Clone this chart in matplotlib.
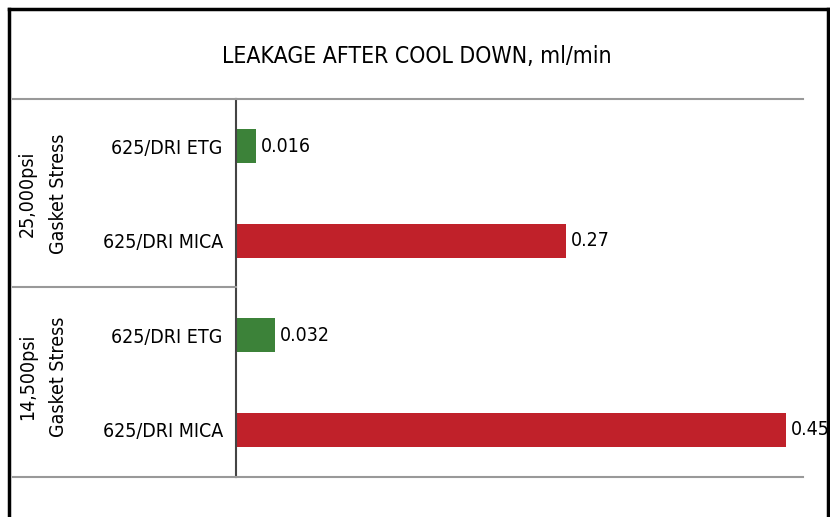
import matplotlib
matplotlib.use("Agg")
import matplotlib.pyplot as plt
from matplotlib.lines import Line2D

# data
groups = ["25,000psi\nGasket Stress", "14,500psi\nGasket Stress"]
categories = ["625/DRI ETG", "625/DRI MICA", "625/DRI ETG", "625/DRI MICA"]
values = [0.016, 0.27, 0.032, 0.45]
value_labels = ["0.016", "0.27", "0.032", "0.45"]
bar_colors = ["#3c8239", "#c0212a", "#3c8239", "#c0212a"]

plt.rcParams['font.family'] = ['DejaVu Sans']
plt.rcParams['font.stretch'] = 'condensed'

W, H = 830, 517
fig = plt.figure(figsize=(W / 100, H / 100), dpi=100)

def fx(px):
    return px / W

def fy(py):
    return 1 - py / H

ax = fig.add_axes([fx(236), fy(477), fx(803) - fx(236), fy(99) - fy(477)])

ypos = list(range(len(categories)))
ax.barh(ypos, values, height=0.36, color=bar_colors)
ax.set_ylim(len(categories) - 0.5, -0.5)
ax.set_xlim(0, 567 / 1222)
ax.set_yticks(ypos)
ax.set_yticklabels(categories, fontsize=14)
ax.tick_params(axis='y', length=0, pad=9.5)
ax.set_xticks([])

for y, v, lab in zip(ypos, values, value_labels):
    ax.text(v + 0.004, y, lab, va='center', ha='left', fontsize=14)

for s in ['top', 'bottom']:
    ax.spines[s].set_color('#999999')
    ax.spines[s].set_linewidth(1.5)
ax.spines['right'].set_visible(False)
ax.spines['left'].set_color('#444444')
ax.spines['left'].set_linewidth(1.5)

# extra lines left of the axis
for py in [99, 287, 477]:
    fig.add_artist(Line2D([fx(13), fx(236)], [fy(py), fy(py)], color='#999999', lw=1.5))

# outer frame
fig.add_artist(Line2D([fx(9), fx(9)], [fy(9), 0], color='black', lw=2.5))
fig.add_artist(Line2D([fx(9), fx(828)], [fy(9), fy(9)], color='black', lw=2.5))
fig.add_artist(Line2D([fx(828), fx(828)], [fy(9), 0], color='black', lw=2.5))

fig.text(fx(417), fy(56), "LEAKAGE AFTER COOL DOWN, ml/min", ha='center', va='center', fontsize=16.5)

for py, g in zip([194, 377], groups):
    fig.text(fx(43), fy(py), g, rotation=90, ha='center', va='center', fontsize=14, linespacing=1.8)

fig.savefig("out.png", dpi=100)
